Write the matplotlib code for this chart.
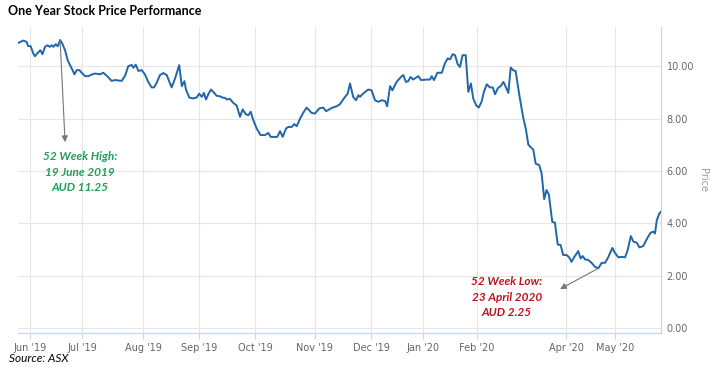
import matplotlib
matplotlib.use("Agg")
import matplotlib.pyplot as plt

# trading-day index (from start of the one-year window) and closing price, AUD
days = [0.1, 2.0, 3.3, 3.9, 4.9, 5.9, 6.5, 7.6, 8.6, 9.4, 10.4, 11.3, 12.2, 13.0, 13.7, 14.5, 15.3,
        16.2, 17.0, 18.1, 19.1, 20.0, 20.9, 21.7, 22.6, 23.6, 24.5, 25.8, 27.1, 28.3, 29.6, 31.5,
        32.8, 34.1, 36.0, 37.3, 39.9, 41.2, 42.4, 43.7, 44.4, 45.3, 46.3, 47.6, 48.8, 50.1, 51.4,
        52.3, 53.3, 54.6, 55.9, 57.2, 59.1, 60.4, 62.0, 63.0, 64.0, 64.6, 65.9, 67.2, 68.7, 69.7,
        70.7, 71.5, 72.3, 73.2, 74.2, 75.1, 76.4, 77.7, 78.7, 79.6, 80.3, 81.5, 82.8, 84.1, 85.4,
        86.4, 87.7, 88.6, 89.5, 90.5, 91.8, 93.3, 95.0, 96.3, 97.2, 98.5, 99.7, 100.8, 101.8, 103.1,
        103.9, 105.3, 106.2, 107.2, 108.5, 109.7, 111.0, 112.9, 114.2, 115.9, 117.4, 118.5, 119.7,
        121.0, 122.6, 123.8, 125.8, 126.8, 127.7, 128.9, 130.0, 130.9, 131.5, 132.8, 134.7, 136.0,
        137.3, 138.6, 139.9, 141.2, 142.0, 143.1, 144.0, 145.6, 147.6, 148.2, 149.2, 150.1, 151.0,
        152.0, 154.0, 155.0, 157.2, 158.5, 159.1, 160.0, 161.3, 163.0, 164.2, 165.3, 166.2, 167.2,
        168.1, 169.1, 170.0, 171.0, 172.2, 173.2, 174.2, 175.1, 176.2, 177.2, 178.3, 179.2, 180.3,
        181.5, 182.6, 183.5, 184.5, 185.7, 186.7, 187.7, 188.6, 189.5, 190.5, 191.4, 192.9, 194.3,
        195.3, 196.3, 198.2, 199.1, 200.5, 201.4, 202.4, 203.3, 204.2, 205.5, 206.5, 207.6, 208.7,
        209.7, 211.0, 212.0, 212.9, 214.2, 215.5, 216.4, 217.2, 218.1, 219.3, 220.7, 221.9, 223.2,
        224.5, 225.8, 227.0, 228.6, 229.6, 230.9, 232.2, 233.5, 234.5, 235.7, 236.7, 238.0, 239.0,
        240.5, 241.8, 243.3, 244.4, 245.0, 245.7, 246.7, 247.3]
price = [10.89, 10.98, 10.93, 10.77, 10.76, 10.48, 10.38, 10.51, 10.61, 10.46, 10.74, 10.80, 10.74,
         10.80, 10.74, 10.84, 10.76, 11.00, 10.87, 10.61, 10.23, 10.04, 9.87, 9.69, 9.85, 9.85, 9.75,
         9.62, 9.62, 9.68, 9.72, 9.69, 9.75, 9.64, 9.44, 9.47, 9.44, 9.64, 10.00, 10.05, 9.94, 10.06,
         9.82, 9.85, 9.69, 9.40, 9.19, 9.19, 9.36, 9.66, 9.74, 9.66, 9.19, 9.53, 10.04, 9.24, 9.43,
         9.11, 8.80, 8.77, 8.80, 8.95, 8.83, 8.98, 8.73, 8.93, 9.11, 9.02, 8.87, 8.85, 8.80, 8.79,
         8.73, 8.75, 8.60, 8.50, 8.07, 8.35, 8.16, 8.13, 8.26, 7.94, 7.62, 7.37, 7.37, 7.45, 7.30,
         7.30, 7.30, 7.52, 7.30, 7.62, 7.68, 7.68, 7.79, 7.71, 8.00, 8.22, 8.42, 8.22, 8.19, 8.39,
         8.42, 8.28, 8.35, 8.42, 8.47, 8.55, 8.83, 8.95, 9.34, 8.83, 8.70, 8.89, 8.83, 8.96, 9.11,
         9.08, 8.70, 8.64, 8.70, 8.67, 8.47, 9.24, 9.08, 9.40, 9.62, 9.66, 9.40, 9.43, 9.59, 9.49,
         9.62, 9.47, 9.49, 9.49, 9.62, 9.47, 9.75, 9.75, 10.11, 10.30, 10.26, 10.46, 10.42, 10.08,
         9.97, 10.42, 10.42, 9.02, 9.34, 8.77, 8.51, 8.42, 8.64, 9.02, 9.31, 9.19, 9.19, 8.93, 9.15,
         9.25, 9.40, 9.19, 8.98, 9.95, 9.84, 9.82, 8.85, 8.05, 7.62, 7.00, 6.81, 6.28, 6.22, 5.90,
         4.92, 5.27, 5.09, 4.05, 4.03, 3.19, 3.17, 2.79, 2.79, 2.70, 2.53, 2.75, 2.94, 2.66, 2.75,
         2.62, 2.60, 2.48, 2.34, 2.28, 2.49, 2.49, 2.70, 3.06, 2.87, 2.70, 2.72, 2.70, 2.98, 3.51,
         3.30, 3.26, 3.08, 3.13, 3.39, 3.64, 3.68, 3.61, 4.12, 4.38, 4.44]

month_pos = [4.6, 24.6, 48.1, 69.6, 91.2, 114.2, 135.8, 155.8, 176.5, 210.8, 229.6]
month_labels = ["Jun '19", "Jul '19", "Aug '19", "Sep '19", "Oct '19", "Nov '19", "Dec '19",
                "Jan '20", "Feb '20", "Apr '20", "May '20"]
price_ticks = [0, 2, 4, 6, 8, 10]

axis_col = "#ccd6eb"
grid_col = "#e6e6e6"
label_col = "#666666"

fig = plt.figure(figsize=(7.2, 3.71), dpi=100)
ax = fig.add_axes([0.025, 0.1024, 0.893, 0.825])

ax.plot(days, price, color="#2066a8", lw=1.4, solid_joinstyle="round", zorder=3)

ax.set_xlim(0, 247.3)
ax.set_ylim(-0.19, 11.5)
ax.set_xticks(month_pos)
ax.set_xticklabels(month_labels)
ax.set_yticks(price_ticks)
ax.set_yticklabels(["%.2f" % v for v in price_ticks])
ax.yaxis.tick_right()
ax.grid(True, color=grid_col, lw=0.8)
ax.set_axisbelow(True)
ax.tick_params(axis="x", colors=axis_col, length=4, width=0.8, labelsize=7, labelcolor=label_col, pad=3)
ax.tick_params(axis="y", length=0, labelsize=7, labelcolor=label_col, pad=4)
for s in ["top", "left"]:
    ax.spines[s].set_visible(False)
for s in ["bottom", "right"]:
    ax.spines[s].set_color(axis_col)
    ax.spines[s].set_linewidth(0.9)

ax.yaxis.set_label_position("right")
ax.set_ylabel("Price", rotation=270, color="#999999", fontsize=7, labelpad=10)

# 52 week high / low call-outs
hi = price.index(max(price))
lo = price.index(min(price))
arrow = dict(arrowstyle="-|>", color="#777777", lw=0.8, mutation_scale=9, shrinkA=0, shrinkB=0)
ax.annotate("", xy=(days[hi] + 1.9, 7.1), xytext=(days[hi], price[hi]), arrowprops=arrow)
ax.annotate("", xy=(days[lo] - 14.7, 1.49), xytext=(days[lo], price[lo]), arrowprops=arrow)

ax.text(23.8, 6.75, "52 Week High:\n19 June 2019\nAUD 11.25", color="#1f9e55", ha="center", va="top",
        fontsize=8.5, fontweight="bold", fontstyle="italic", family="Lato", linespacing=1.5)
ax.text(188, 1.98, "52 Week Low:\n23 April 2020\nAUD 2.25", color="#c0121c", ha="center", va="top",
        fontsize=8.5, fontweight="bold", fontstyle="italic", family="Lato", linespacing=1.5)

fig.text(0.011, 0.97, "One Year Stock Price Performance", fontsize=9, fontweight="bold",
         family="Lato", va="center", ha="left")
fig.text(0.013, 0.035, "Source: ASX", fontsize=8.5, fontstyle="italic", family="Lato",
         va="center", ha="left")

fig.savefig("out.png", dpi=100)
